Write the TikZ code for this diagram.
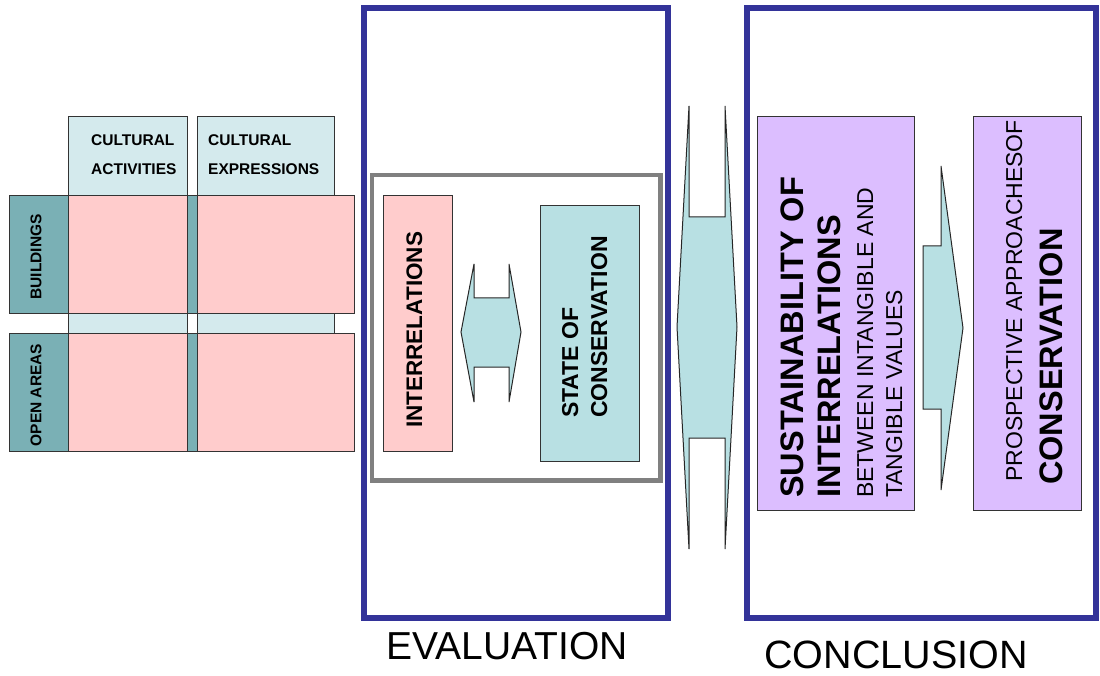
\documentclass[tikz,border=0pt]{standalone}
\usepackage{fontspec}
\setmainfont{Liberation Sans}
\definecolor{pinkcell}{RGB}{255,204,204}
\definecolor{headblue}{RGB}{212,234,237}
\definecolor{arrowblue}{RGB}{184,224,227}
\definecolor{tealrow}{RGB}{122,176,181}
\definecolor{lilac}{RGB}{220,190,255}
\definecolor{framblue}{RGB}{51,51,153}
\definecolor{framgray}{RGB}{128,128,128}
\begin{document}
\begin{tikzpicture}[x=1pt,y=-1pt,
  cell/.style={draw=black!80,line width=0.9pt,anchor=north west,inner sep=0pt},
  panel/.style={draw=framblue,line width=5.5pt},
  fatarrow/.style={draw=black!85,line width=1pt,fill=arrowblue,line join=miter},
  vlabel/.style={rotate=90,inner sep=0pt,align=left},
  hlabel/.style={inner sep=0pt,anchor=base west}]
\useasboundingbox (0,0) rectangle (1100,676);

% ---- matrix of activities / expressions against buildings / open areas
\node[cell,fill=headblue,minimum width=119pt,minimum height=335pt] (colA) at (68,116) {};
\node[cell,fill=headblue,minimum width=137pt,minimum height=335pt] (colB) at (197,116) {};
\node[cell,fill=tealrow,minimum width=345pt,minimum height=118pt] (rowB) at (9,195) {};
\node[cell,fill=tealrow,minimum width=345pt,minimum height=118pt] (rowO) at (9,333) {};
\node[cell,fill=pinkcell,minimum width=119pt,minimum height=118pt] (cAB) at (68,195) {};
\node[cell,fill=pinkcell,minimum width=157pt,minimum height=118pt] (cEB) at (197,195) {};
\node[cell,fill=pinkcell,minimum width=119pt,minimum height=118pt] (cAO) at (68,333) {};
\node[cell,fill=pinkcell,minimum width=157pt,minimum height=118pt] (cEO) at (197,333) {};

\node[hlabel] (tA1) at (91,146) {\fontsize{15.5}{18}\selectfont\bfseries CULTURAL};
\node[hlabel] (tA2) at (91,175) {\fontsize{15.5}{18}\selectfont\bfseries ACTIVITIES};
\node[hlabel] (tB1) at (208,146) {\fontsize{15.5}{18}\selectfont\bfseries CULTURAL};
\node[hlabel] (tB2) at (208,175) {\fontsize{15.5}{18}\selectfont\bfseries EXPRESSIONS};
\node[vlabel] (tRB) at (36,257) {\fontsize{15.5}{18}\selectfont\bfseries BUILDINGS};
\node[vlabel] (tRO) at (36,395) {\fontsize{15.5}{18}\selectfont\bfseries OPEN AREAS};

% ---- evaluation panel
\draw[panel] (364,8) rectangle (668,618);
\draw[draw=framgray,line width=4.5pt] (372,175) rectangle (660.5,480.5);
\node[cell,fill=pinkcell,minimum width=69pt,minimum height=256pt] (inter) at (383,195) {};
\node[cell,fill=arrowblue,minimum width=99pt,minimum height=256pt] (state) at (540,205) {};
\node[vlabel,anchor=base west] (tInter) at (422,428)
  {\fontsize{22.5}{26}\selectfont\bfseries INTERRELATIONS};
\node[vlabel,anchor=base west] (tState1) at (578,418)
  {\fontsize{23}{26}\selectfont\bfseries STATE OF};
\node[vlabel,anchor=base west] (tState2) at (607,418)
  {\fontsize{23}{26}\selectfont\bfseries CONSERVATION};

% two-way arrow between interrelations and state of conservation
\draw[fatarrow] (474,264) -- (474,298) -- (509,298) -- (509,264) -- (521,332)
  -- (509,402) -- (509,367) -- (474,367) -- (474,402) -- (461,332) -- cycle;

\node[anchor=base] (tEval) at (507,659) {\fontsize{39}{44}\selectfont EVALUATION};

% ---- wide two-way arrow between the panels
\draw[fatarrow] (689,106) -- (689,217) -- (725,217) -- (725,106) -- (737,327)
  -- (725,549) -- (725,438) -- (689,438) -- (689,549) -- (677,327) -- cycle;

% ---- conclusion panel
\draw[panel] (747,8) rectangle (1096,618);
\node[cell,fill=lilac,minimum width=157pt,minimum height=394pt] (sust) at (757,116) {};
\node[cell,fill=lilac,minimum width=108pt,minimum height=394pt] (prosp) at (973,116) {};
\node[vlabel,anchor=base west] (tS1) at (803,498)
  {\fontsize{32.5}{36}\selectfont\bfseries SUSTAINABILITY OF};
\node[vlabel,anchor=base west] (tS2) at (840,498)
  {\fontsize{32.5}{36}\selectfont\bfseries INTERRELATIONS};
\node[vlabel,anchor=base west] (tS3) at (873,498)
  {\fontsize{23}{26}\selectfont BETWEEN INTANGIBLE AND};
\node[vlabel,anchor=base west] (tS4) at (902,498)
  {\fontsize{23}{26}\selectfont TANGIBLE VALUES};
\node[vlabel,anchor=base west] (tP1) at (1022,482)
  {\fontsize{23}{26}\selectfont PROSPECTIVE APPROACHESOF};
\node[vlabel,anchor=base west] (tP2) at (1062,485)
  {\fontsize{32.5}{36}\selectfont\bfseries CONSERVATION};

% one-way arrow from sustainability to prospective approaches
\draw[fatarrow] (923,246) -- (941,246) -- (941,166) -- (963,328) -- (941,490)
  -- (941,409) -- (923,409) -- cycle;

\node[anchor=base] (tConc) at (896,668) {\fontsize{39.5}{44}\selectfont CONCLUSION};
\end{tikzpicture}
\end{document}
